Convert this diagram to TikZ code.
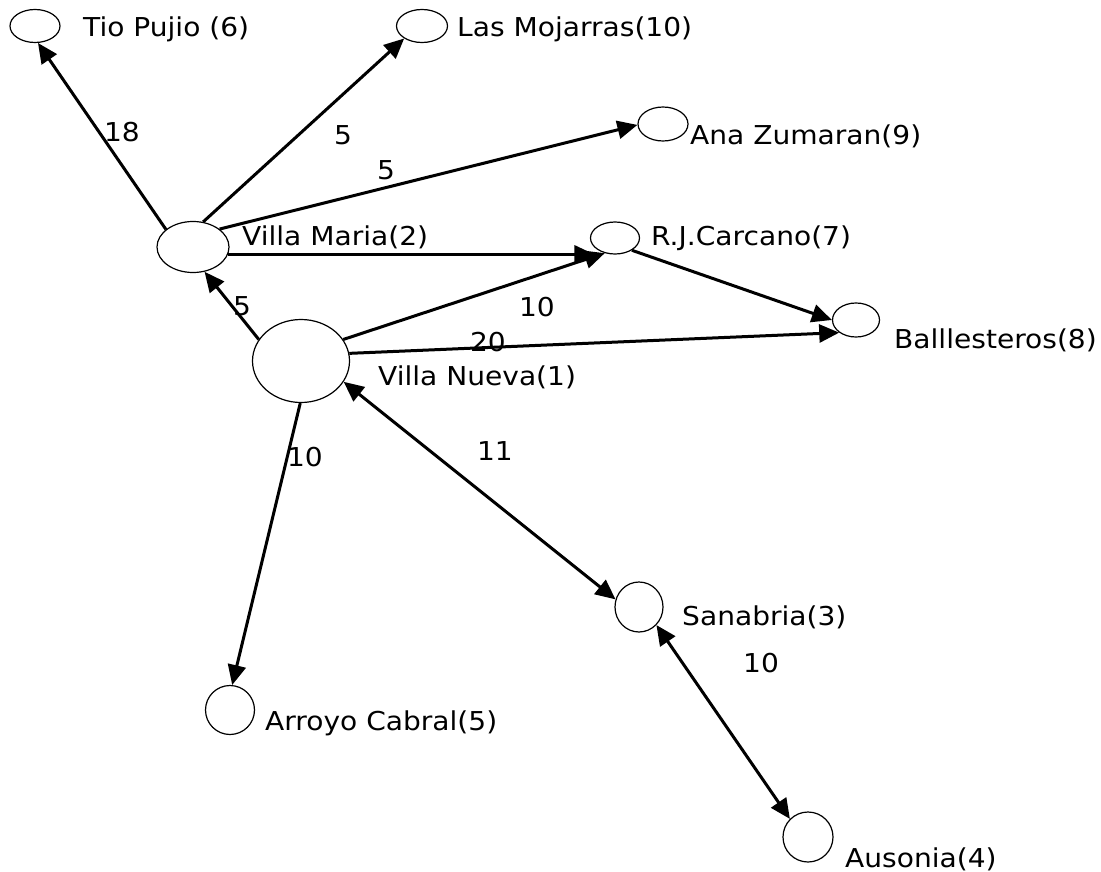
\documentclass[tikz,border=0pt]{standalone}
\usepackage{fontspec}
\setmainfont[FakeStretch=1.08]{DejaVu Sans}
\usetikzlibrary{arrows.meta,shapes.geometric}
\begin{document}
\begin{tikzpicture}[x=1pt,y=-1pt,
  >={Triangle[length=20pt,width=18pt]},
  city/.style={draw,ellipse,line width=1.2pt,inner sep=0pt},
  lbl/.style={anchor=base west,inner sep=0pt,font=\fontsize{26}{31}\selectfont},
  wlbl/.style={anchor=base,inner sep=0pt,font=\fontsize{26}{31}\selectfont},
  edge/.style={line width=3pt,->},
  dedge/.style={line width=3pt,<->}]
\useasboundingbox (0,0) rectangle (1101,872);
% cities
\node[city,minimum width=50pt,minimum height=33pt] (tp) at (35,26) {};
\node[city,minimum width=51pt,minimum height=33pt] (lm) at (422,26) {};
\node[city,minimum width=50pt,minimum height=34pt] (az) at (663,124) {};
\node[city,minimum width=72pt,minimum height=51pt] (vm) at (193,247) {};
\node[city,minimum width=97pt,minimum height=83pt] (vn) at (301,361) {};
\node[city,minimum width=49pt,minimum height=32pt] (rj) at (615,238) {};
\node[city,minimum width=47pt,minimum height=34pt] (ba) at (856,320) {};
\node[city,minimum width=48pt,minimum height=50pt] (sa) at (639,607) {};
\node[city,minimum width=50pt,minimum height=50pt] (au) at (808,837) {};
\node[city,minimum width=49pt,minimum height=49pt] (ac) at (230,710) {};
% city labels
\node[lbl] (ltp) at (83,37) {Tio Pujio (6)};
\node[lbl] (llm) at (457,37) {Las Mojarras(10)};
\node[lbl] (laz) at (690,145) {Ana Zumaran(9)};
\node[lbl] (lvm) at (242,245) {Villa Maria(2)};
\node[lbl] (lrj) at (651,245) {R.J.Carcano(7)};
\node[lbl] (lba) at (894,348) {Balllesteros(8)};
\node[lbl] (lvn) at (378,385) {Villa Nueva(1)};
\node[lbl] (lsa) at (682,625) {Sanabria(3)};
\node[lbl] (lac) at (265,730) {Arroyo Cabral(5)};
\node[lbl] (lau) at (845,867) {Ausonia(4)};
% connectors
\draw[edge] (vm.147) -- (tp.-80);
\draw[edge] (vm.68) -- (lm.215);
\draw[edge] (vm.34) -- (az.182);
\draw[edge] (vm.-12) -- (vm.-12 -| rj.205);
\draw[edge] (vn.153) -- (vm.-65);
\draw[edge] (vn.27) -- (rj.236);
\draw[edge] (vn.9) -- (ba.217);
\draw[edge] (rj.-36) -- (ba.180);
\draw[dedge] (vn.-26) -- (sa.162);
\draw[edge] (vn.-91) -- (ac.85);
\draw[dedge] (sa.-46) -- (au.135);
% weights
\node[wlbl] (w1) at (122,142) {18};
\node[wlbl] (w2) at (343,145) {5};
\node[wlbl] (w3) at (386,180) {5};
\node[wlbl] (w4) at (242,315) {5};
\node[wlbl] (w5) at (537,316) {10};
\node[wlbl] (w6) at (488,351) {20};
\node[wlbl] (w7) at (495,460) {11};
\node[wlbl] (w8) at (305,466) {10};
\node[wlbl] (w9) at (761,672) {10};
\end{tikzpicture}
\end{document}
